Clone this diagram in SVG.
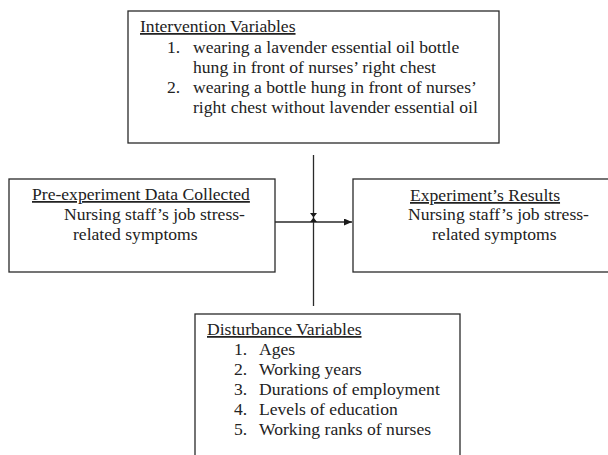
<svg xmlns="http://www.w3.org/2000/svg" width="608" height="455" viewBox="0 0 608 455">
<style>
.box{fill:#fff;stroke:#2a2a2a;stroke-width:1.3}
.t{font-family:"Liberation Serif","Times New Roman",serif;font-size:17.6px;fill:#222}
.h{text-decoration:underline}
.ln{stroke:#2a2a2a;stroke-width:1.3;fill:none}
.ah{fill:#1a1a1a}
</style>
<defs>
<marker id="arr" markerWidth="8" markerHeight="7" refX="8" refY="3.5" orient="auto" markerUnits="userSpaceOnUse">
<path d="M0,0 L8,3.5 L0,7 Z" class="ah"/>
</marker>
</defs>
<rect width="608" height="455" fill="#fff"/>
<g id="intervention">
<rect class="box" x="128" y="11" width="371" height="132"/>
<text class="t h" x="140" y="32">Intervention Variables</text>
<text class="t" x="167" y="53">1.</text>
<text class="t" x="193" y="53">wearing a lavender essential oil bottle</text>
<text class="t" x="193" y="73">hung in front of nurses’ right chest</text>
<text class="t" x="167" y="93">2.</text>
<text class="t" x="193" y="93">wearing a bottle hung in front of nurses’</text>
<text class="t" x="193" y="113">right chest without lavender essential oil</text>
</g>
<g id="pre">
<rect class="box" x="9" y="179" width="266" height="93"/>
<text class="t h" x="32" y="200">Pre-experiment Data Collected</text>
<text class="t" x="64" y="220">Nursing staff’s job stress-</text>
<text class="t" x="73" y="240">related symptoms</text>
</g>
<g id="results">
<rect class="box" x="353" y="179" width="262" height="93"/>
<text class="t h" x="410" y="201">Experiment’s Results</text>
<text class="t" x="408" y="220">Nursing staff’s job stress-</text>
<text class="t" x="432" y="240">related symptoms</text>
</g>
<g id="disturbance">
<rect class="box" x="195" y="314" width="265" height="150"/>
<text class="t h" x="207" y="335">Disturbance Variables</text>
<text class="t" x="234" y="355">1.</text><text class="t" x="259" y="355">Ages</text>
<text class="t" x="234" y="375">2.</text><text class="t" x="259" y="375">Working years</text>
<text class="t" x="234" y="395">3.</text><text class="t" x="259" y="395">Durations of employment</text>
<text class="t" x="234" y="415">4.</text><text class="t" x="259" y="415">Levels of education</text>
<text class="t" x="234" y="435">5.</text><text class="t" x="259" y="435">Working ranks of nurses</text>
</g>
<g id="connectors">
<line class="ln" x1="275" y1="222" x2="352" y2="222" marker-end="url(#arr)"/>
<line class="ln" x1="313.5" y1="155" x2="313.5" y2="306"/>
<path class="ah" d="M310,213 L317,213 L313.5,217.5 L317,222 L310,222 L313.5,217.5 Z"/>
</g>
</svg>
